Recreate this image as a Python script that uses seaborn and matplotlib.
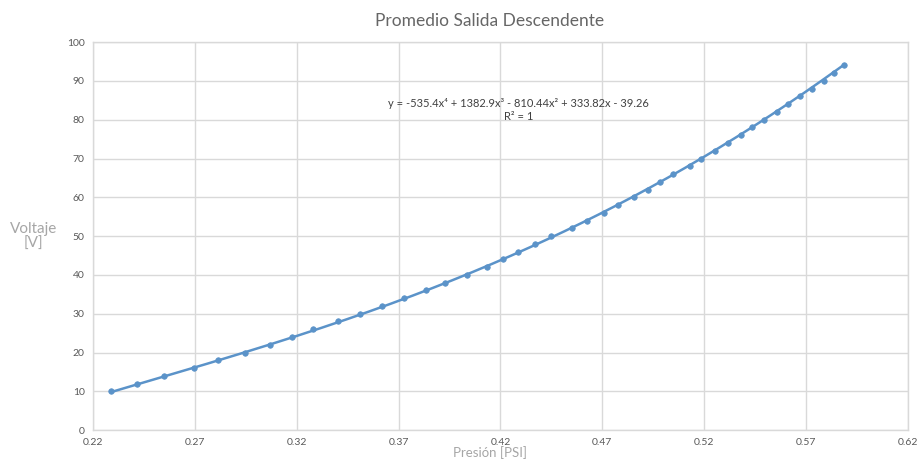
import numpy as np
import pandas as pd
import matplotlib
matplotlib.use("Agg")
import matplotlib.pyplot as plt
import seaborn as sns

# Averaged descending output: pressure (PSI) vs voltage (V)
presion = [0.229, 0.2415, 0.2548, 0.2695, 0.2813, 0.2946, 0.3069, 0.3177, 0.328,
           0.3403, 0.3511, 0.3619, 0.3727, 0.3836, 0.3929, 0.4037, 0.4136, 0.4214,
           0.4288, 0.4367, 0.445, 0.4549, 0.4627, 0.4706, 0.4775, 0.4853, 0.4922,
           0.4981, 0.5045, 0.5129, 0.5185, 0.5252, 0.5316, 0.5379, 0.5433, 0.5493,
           0.5557, 0.5611, 0.567, 0.5729, 0.5788, 0.5837, 0.5886]
voltaje = [10, 12, 14, 16, 18, 20, 22, 24, 26, 28, 30, 32, 34, 36, 38, 40, 42, 44,
           46, 48, 50, 52, 54, 56, 58, 60, 62, 64, 66, 68, 70, 72, 74, 76, 78, 80,
           82, 84, 86, 88, 90, 92, 94]

# 4th-order polynomial trend coefficients (highest power first)
coef = [-535.4, 1382.9, -810.44, 333.82, -39.26]

x_ticks = [0.22, 0.27, 0.32, 0.37, 0.42, 0.47, 0.52, 0.57, 0.62]
y_ticks = [0, 10, 20, 30, 40, 50, 60, 70, 80, 90, 100]

sns.set_theme(style="white")
plt.rcParams['font.family'] = ['Lato', 'DejaVu Sans']

blue = "#5b93c9"
grid_c = "#d9d9d9"
text_c = "#595959"

df = pd.DataFrame({"Presión": presion, "Voltaje": voltaje})
xs = np.linspace(min(presion), max(presion), 300)
trend = pd.DataFrame({"x": xs, "y": np.polyval(coef, xs)})

fig = plt.figure(figsize=(9.2, 4.63), dpi=100)
ax = fig.add_axes([0.101, 0.071, 0.886, 0.838])

sns.lineplot(data=trend, x="x", y="y", ax=ax, color=blue, linewidth=1.8, zorder=3)
sns.scatterplot(data=df, x="Presión", y="Voltaje", ax=ax, color=blue, s=16,
                edgecolor=blue, linewidth=0.5, zorder=4)

ax.set_xlim(0.22, 0.62)
ax.set_ylim(0, 100)
ax.set_xticks(x_ticks)
ax.set_xticklabels([f"{t:.2f}" for t in x_ticks])
ax.set_yticks(y_ticks)
ax.grid(True, color=grid_c, linewidth=1.0)
ax.set_axisbelow(True)
for s in ax.spines.values():
    s.set_color(grid_c)
    s.set_linewidth(1.0)
ax.tick_params(axis="both", length=0, colors=text_c, labelsize=7.5, pad=6)

ax.set_xlabel("Presión [PSI]", color="#a6a6a6", fontsize=9.5, va="center")
ax.xaxis.set_label_coords(0.487, -0.058)
ax.set_ylabel("Voltaje\n[V]", color="#a6a6a6", fontsize=11, rotation=0,
              va="center", ha="center", multialignment="center", linespacing=1.1)
ax.yaxis.set_label_coords(-0.073, 0.5)

fig.text(0.532, 0.955, "Promedio Salida Descendente", ha="center", va="center",
         fontsize=12.5, color="#666666")

# Trendline equation and fit quality
ax.text(0.4288, 84.3, "y = -535.4x⁴ + 1382.9x³ - 810.44x² + 333.82x - 39.26",
        ha="center", va="center", fontsize=8, color="#404040")
ax.text(0.4288, 80.8, "R² = 1", ha="center", va="center", fontsize=8,
        color="#404040")

fig.savefig("out.png", dpi=100)
